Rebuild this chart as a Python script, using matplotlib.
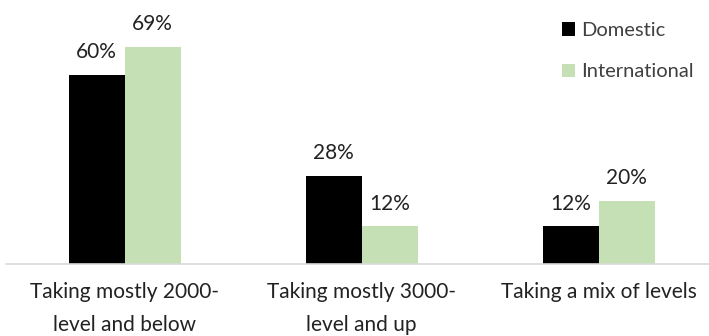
import matplotlib
matplotlib.use("Agg")
import matplotlib.pyplot as plt
import numpy as np

categories = ["Taking mostly 2000-\nlevel and below", "Taking mostly 3000-\nlevel and up", "Taking a mix of levels"]
series_names = ["Domestic", "International"]
domestic = [60, 28, 12]
international = [69, 12, 20]
colors = ["#000000", "#c5e0b4"]

plt.rcParams['font.family'] = ['Lato', 'DejaVu Sans']
fig = plt.figure(figsize=(7.09, 3.36), dpi=100)
ax = fig.add_axes([6/709, 72/336, 703/709, 252/336])

x = np.arange(len(categories))
w = 56/237
txtc = "#222222"
b1 = ax.bar(x - w/2, domestic, w, color=colors[0], label=series_names[0])
b2 = ax.bar(x + w/2, international, w, color=colors[1], label=series_names[1])
for bars, vals in ((b1, domestic), (b2, international)):
    for r, v in zip(bars, vals):
        ax.annotate(f"{v}%", (r.get_x() + r.get_width()/2, v), xytext=(0, 9),
                    textcoords="offset points", ha="center", va="bottom",
                    fontsize=15, color=txtc)

ax.set_xlim(-0.5, -0.5 + 703/237)
ax.set_ylim(0, 80)
ax.set_yticks([])
ax.set_xticks(x)
ax.set_xticklabels(categories, fontsize=15, color=txtc, linespacing=1.8)
ax.tick_params(axis="x", length=0, pad=13)
for s in ["top", "right", "left"]:
    ax.spines[s].set_visible(False)
ax.spines["bottom"].set_color("#d9d9d9")
ax.spines["bottom"].set_linewidth(1.2)

leg = fig.legend(handles=[b1, b2], labels=series_names, loc="upper left",
                 bbox_to_anchor=(544/709, 1 - 4/336), frameon=False,
                 fontsize=14.5, handlelength=0.64, handleheight=0.64,
                 handletextpad=0.3, labelspacing=1.2)
for t in leg.get_texts():
    t.set_color("#404040")

fig.savefig("out.png", dpi=100)
